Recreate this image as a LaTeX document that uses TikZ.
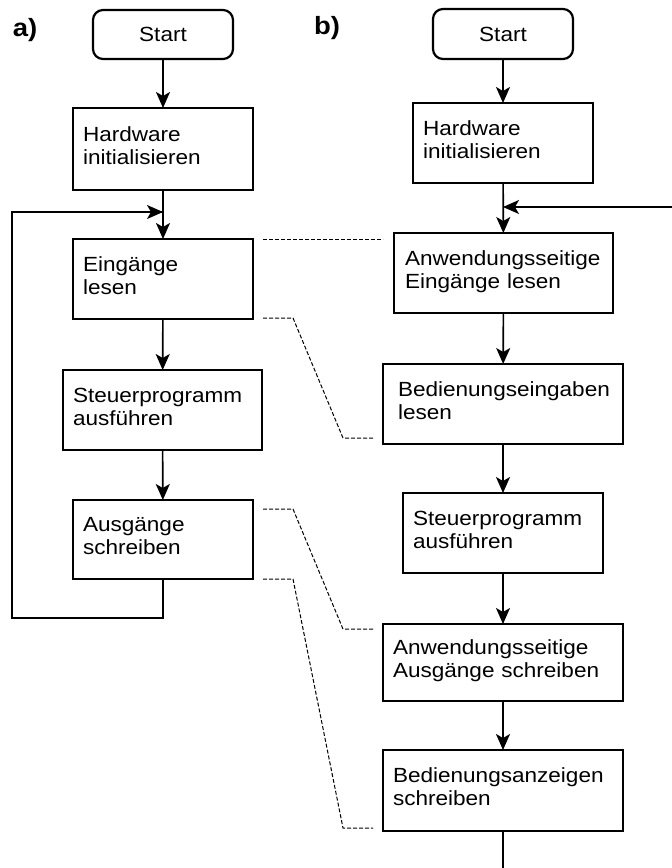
\documentclass[tikz,border=0pt]{standalone}
\usepackage{fontspec}
\setmainfont[FakeStretch=1.1]{Liberation Sans}
\usetikzlibrary{arrows.meta}
\begin{document}
\begin{tikzpicture}[x=1pt,y=-1pt,
  every node/.style={font=\fontsize{20.5}{23}\selectfont},
  startbox/.style={draw, line width=2.2pt, rounded corners=10pt,
    minimum width=140pt, minimum height=49pt, inner sep=0pt},
  stepbox/.style={draw, line width=2.2pt, align=left, inner ysep=0pt,
    inner xsep=10pt, outer sep=0pt, text height=15pt, text depth=31pt},
  flow/.style={line width=1.6pt, -{Stealth[length=16pt,width=14pt,inset=4pt]}},
  loop/.style={line width=1.1pt},
  link/.style={line width=1pt, dash pattern=on 4pt off 2pt},
  tag/.style={font=\fontsize{25}{27}\selectfont\bfseries}]
\useasboundingbox (0,0) rectangle (672,868);

% ---- a) simple cycle ----
\node[tag] (labA) at (25,30) {a)};
\node[startbox] (startA) at (163,34.5) {Start};
\node[stepbox, text width=160pt, minimum height=82pt] (hwA) at (163,149) {Hardware\\initialisieren};
\node[stepbox, text width=160pt, minimum height=80pt] (einA) at (163,279) {Eingänge\\lesen};
\node[stepbox, text width=179pt, minimum height=80pt] (stA) at (162.5,410) {Steuerprogramm\\ausführen};
\node[stepbox, text width=160pt, minimum height=79pt] (ausA) at (163,539.5) {Ausgänge\\schreiben};

\draw[flow] (startA) -- (hwA);
\draw[flow] (hwA) -- (einA);
\draw[flow] (einA) -- (stA);
\draw[flow] (stA) -- (ausA);

\coordinate (loopBL) at (12,618);
\coordinate (loopIn) at (163,212);
\draw[loop] (ausA.south) |- (loopBL) |- (loopIn);
\draw[flow, line width=1.1pt] (12,212) -- (loopIn);

% ---- b) cycle with operator I/O ----
\node[tag] (labB) at (327,28) {b)};
\node[startbox, minimum height=50pt] (startB) at (503,34) {Start};
\node[stepbox, text width=160pt, minimum height=80pt] (hwB) at (503,143) {Hardware\\initialisieren};
\node[stepbox, inner xsep=11pt, text width=197pt, minimum height=80pt] (einB) at (503.5,273) {Anwendungsseitige\\Eingänge lesen};
\node[stepbox, inner xsep=15pt, text width=210pt, minimum height=80pt] (bedEinB) at (503,404) {Bedienungseingaben\\lesen};
\node[stepbox, text width=180pt, minimum height=80pt] (stB) at (503,533) {Steuerprogramm\\ausführen};
\node[stepbox, text width=220pt, minimum height=77pt] (ausB) at (503,662.5) {Anwendungsseitige\\Ausgänge schreiben};
\node[stepbox, text width=220pt, minimum height=81pt] (bedAnzB) at (503,790.5) {Bedienungsanzeigen\\schreiben};

\draw[flow] (startB) -- (hwB);
\draw[flow] (hwB) -- (einB);
\draw[flow] (einB) -- (bedEinB);
\draw[flow] (bedEinB) -- (stB);
\draw[flow] (stB) -- (ausB);
\draw[flow] (ausB) -- (bedAnzB);
\coordinate (outB) at (503,868);
\draw[line width=1.6pt] (bedAnzB.south) -- (outB);
\coordinate (backIn) at (672,207);
\coordinate (backTip) at (503,207);
\draw[flow, line width=1.1pt] (backIn) -- (backTip);

% ---- dashed correspondences ----
\coordinate (d1a) at (263,239);  \coordinate (d1b) at (383,239);
\draw[link] (d1a) -- (d1b);
\coordinate (d2a) at (263,318);  \coordinate (d2b) at (373,438);
\draw[link] (d2a) -- (293,318) -- (343,438) -- (d2b);
\coordinate (d3a) at (263,509);  \coordinate (d3b) at (373,629);
\draw[link] (d3a) -- (293,509) -- (343,629) -- (d3b);
\coordinate (d4a) at (263,579);  \coordinate (d4b) at (373,828);
\draw[link] (d4a) -- (293,579) -- (343,828) -- (d4b);
\end{tikzpicture}
\end{document}
